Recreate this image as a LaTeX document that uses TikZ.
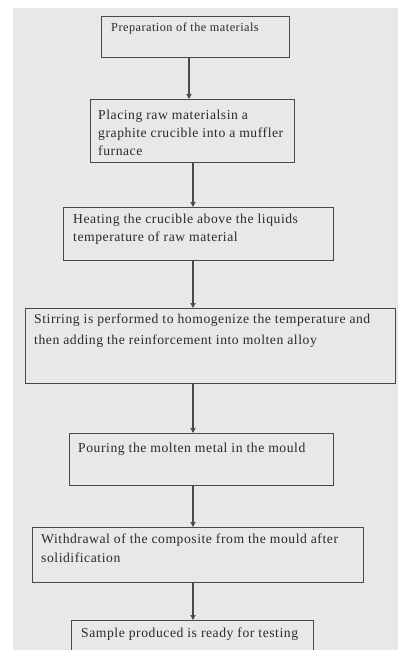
\documentclass[tikz,border=0pt]{standalone}
\usepackage{fontspec}
\setmainfont{Liberation Serif}[LetterSpace=4]
\usetikzlibrary{arrows.meta}
\definecolor{bg}{HTML}{E8E8E8}
\definecolor{ln}{HTML}{4A4A4A}
\definecolor{tx}{HTML}{2A2A2A}
\tikzset{
  box/.style={draw=ln, line width=1.1bp, inner sep=0pt, anchor=north west},
  lbl/.style={anchor=north west, inner sep=0pt, text=tx, font=\fontsize{13.7}{18}\selectfont, align=left},
  arr/.style={draw=ln, line width=1.1bp, -{Triangle[length=5bp,width=5bp]}}
}
\begin{document}
\begin{tikzpicture}[x=1bp,y=-1bp]
\useasboundingbox (0,0) rectangle (398,650);
\clip (0,0) rectangle (398,650);
\fill[white] (0,0) rectangle (398,650);
\fill[bg] (13,8) rectangle (398,650);
% boxes
\node[box, minimum width=188bp, minimum height=41bp] (b1) at (101,16) {};
\node[box, minimum width=204bp, minimum height=63bp] (b2) at (90,99) {};
\node[box, minimum width=270bp, minimum height=53bp] (b3) at (63,207) {};
\node[box, minimum width=370bp, minimum height=75bp] (b4) at (25,308) {};
\node[box, minimum width=264bp, minimum height=52bp] (b5) at (69,433) {};
\node[box, minimum width=331bp, minimum height=55bp] (b6) at (32,527) {};
\node[box, minimum width=242bp, minimum height=50bp] (b7) at (71,620) {};
% labels
\node[lbl, font=\fontsize{12.3}{18}\selectfont] (t1) at (111,23) {Preparation of the materials};
\node[lbl] (t2) at (98,110) {Placing raw materialsin a\\graphite crucible into a muffler\\furnace};
\node[lbl] (t3) at (73,214) {Heating the crucible above the liquids\\temperature of raw material};
\node[lbl, font=\fontsize{13.7}{21}\selectfont] (t4) at (34,314) {Stirring is performed to homogenize the temperature and\\then adding the reinforcement into molten alloy};
\node[lbl] (t5) at (78,443) {Pouring the molten metal in the mould};
\node[lbl, font=\fontsize{13.7}{19}\selectfont] (t6) at (41,534) {Withdrawal of the composite from the mould after\\solidification};
\node[lbl] (t7) at (81,628) {Sample produced is ready for testing};
% connectors
\coordinate (xa) at (189,0);
\coordinate (xb) at (193,0);
\draw[arr] (b1.south -| xa) -- (b2.north -| xa);
\draw[arr] (b2.south -| xb) -- (b3.north -| xb);
\draw[arr] (b3.south -| xb) -- (b4.north -| xb);
\draw[arr] (b4.south -| xb) -- (b5.north -| xb);
\draw[arr] (b5.south -| xb) -- (b6.north -| xb);
\draw[arr] (b6.south -| xb) -- (b7.north -| xb);
\end{tikzpicture}
\end{document}
